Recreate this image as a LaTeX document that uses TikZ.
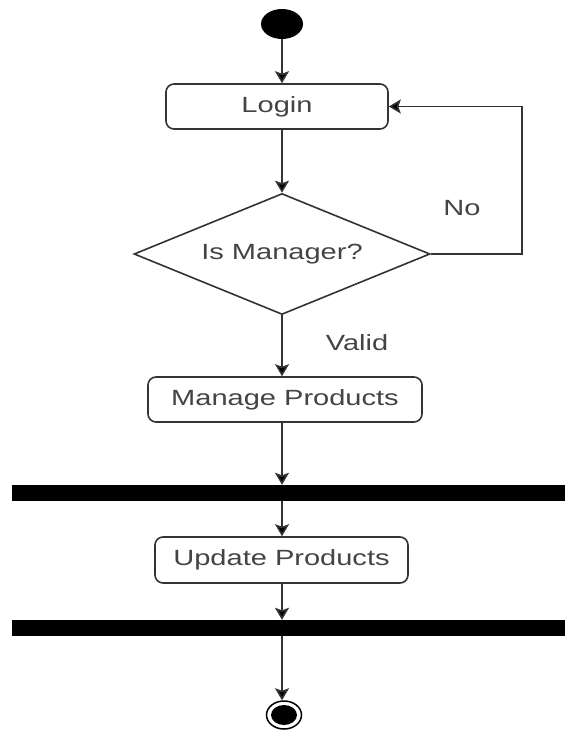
\documentclass[tikz,border=0pt]{standalone}
\usepackage{fontspec}
\setmainfont{Liberation Sans}[FakeStretch=1.32]
\usetikzlibrary{shapes.geometric,arrows.meta}
\definecolor{ln}{HTML}{333333}
\definecolor{tx}{HTML}{444444}
\begin{document}
\begin{tikzpicture}[x=1pt,y=-1pt,
  lbl/.style={font=\fontsize{22}{24}\selectfont, text=tx},
  actbox/.style={draw=ln, line width=1.6pt, rounded corners=8pt, fill=white, inner sep=0pt, lbl},
  bar/.style={fill=black, inner sep=0pt, minimum height=16pt, minimum width=553pt},
  flow/.style={draw=ln, line width=1.6pt, -{Stealth[length=12pt,width=14pt,inset=2.5pt,fill=black]}},
]
\useasboundingbox (0,0) rectangle (565,736);
\coordinate (axis) at (282,0);
\node[ellipse, fill=black, minimum width=42pt, minimum height=30pt, inner sep=0pt] (start) at (282,24) {};
\node[actbox, minimum width=222pt, minimum height=45pt] (login) at (277,106.5) {Login};
\node[diamond, draw=ln, line width=1.6pt, aspect=2.45, inner sep=0pt, minimum width=296pt, minimum height=121pt, lbl] (dec) at (282,254) {Is Manager?};
\node[actbox, minimum width=274pt, minimum height=45pt] (manage) at (285,399.5) {Manage Products};
\node[bar] (bar1) at (288.5,493) {};
\node[actbox, minimum width=253pt, minimum height=46pt] (update) at (281.5,560) {Update Products};
\node[bar] (bar2) at (288.5,628) {};
\node[ellipse, draw=black, line width=1.5pt, fill=white, minimum width=35pt, minimum height=28pt, inner sep=0pt] (end) at (284,715) {};
\node[ellipse, fill=black, minimum width=26pt, minimum height=20pt, inner sep=0pt] (endin) at (end.center) {};
\node[lbl] (no) at (462,208) {No};
\node[lbl] (valid) at (357,343) {Valid};
\draw[flow] (start.south) -- (start.south |- login.north);
\draw[flow] (axis |- login.south) -- (dec.north);
\draw[flow] (dec.east) -- ++(91,0) |- (login.east);
\draw[flow] (dec.south) -- (dec.south |- manage.north);
\draw[flow] (axis |- manage.south) -- (axis |- bar1.north);
\draw[flow] (axis |- bar1.south) -- (axis |- update.north);
\draw[flow] (axis |- update.south) -- (axis |- bar2.north);
\draw[flow] (axis |- bar2.south) -- (axis |- end.north);
\end{tikzpicture}
\end{document}
